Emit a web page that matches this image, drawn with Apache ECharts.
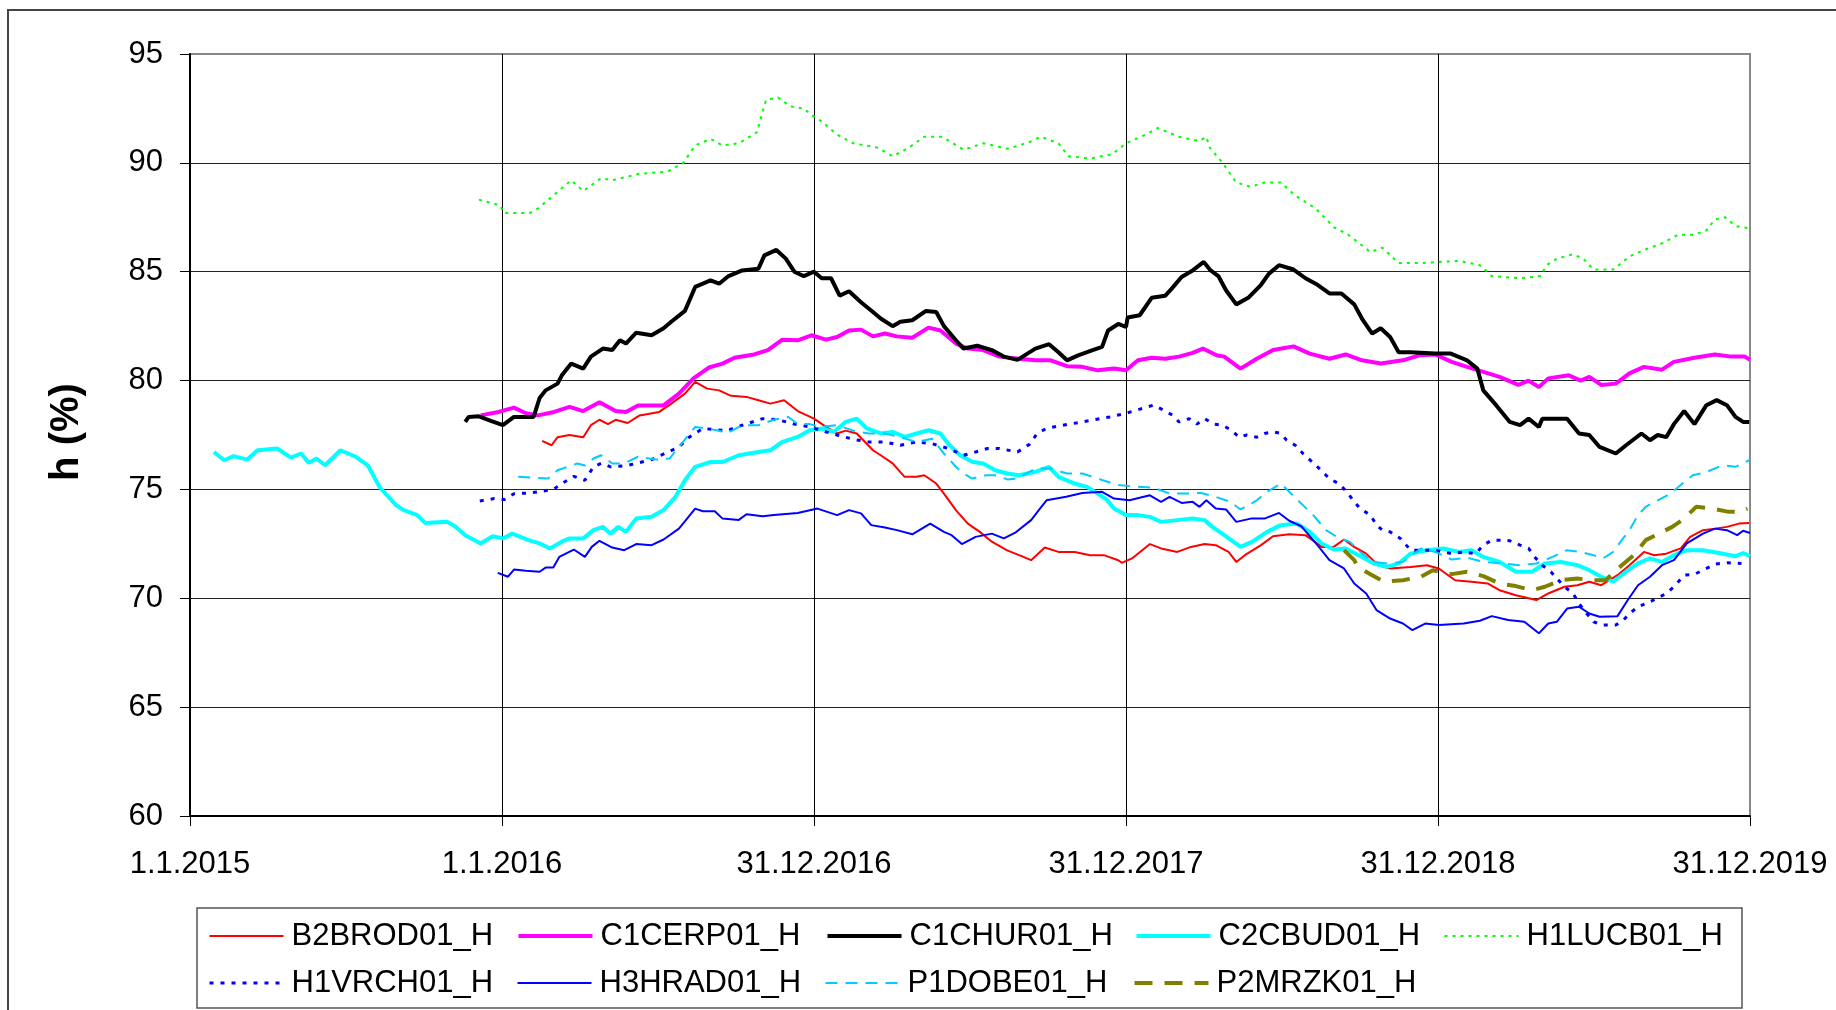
<!DOCTYPE html>
<html>
<head>
<meta charset="utf-8">
<title>h (%)</title>
<script src="https://cdn.jsdelivr.net/npm/echarts@6/dist/echarts.min.js"></script>
<style>
  html, body { margin: 0; padding: 0; background: #fff; }
  #chart { width: 1836px; height: 1010px; }
</style>
</head>
<body>
<div id="chart"></div>
<script>
// x = days since 1.1.2015, y = h (%)
const xTickLabels = ['1.1.2015', '1.1.2016', '31.12.2016', '31.12.2017', '31.12.2018', '31.12.2019']

const seriesNames = ['B2BROD01_H', 'C1CERP01_H', 'C1CHUR01_H', 'C2CBUD01_H', 'H1LUCB01_H',
  'H1VRCH01_H', 'H3HRAD01_H', 'P1DOBE01_H', 'P2MRZK01_H']

const b2brod = [[412,77.23],[423,77.03],[430,77.4],[444,77.5],[460,77.4],[469,77.95],[479,78.2],[489,78.0],[498,78.2],[512,78.05],[526,78.4],[549,78.56],[563,78.94],[579,79.4],[591,79.94],[605,79.63],[619,79.55],[633,79.3],[651,79.25],[665,79.1],[679,78.94],[695,79.1],[711,78.6],[730,78.25],[744,77.87],[757,77.57],[767,77.7],[780,77.57],[799,76.8],[808,76.57],[822,76.2],[836,75.58],[850,75.58],[859,75.65],[873,75.27],[882,74.81],[896,74.05],[910,73.43],[924,73.05],[938,72.6],[956,72.2],[975,71.9],[984,71.75],[1000,72.33],[1016,72.13],[1035,72.13],[1053,71.98],[1069,71.98],[1086,71.75],[1090,71.63],[1102,71.83],[1123,72.49],[1136,72.29],[1155,72.13],[1171,72.36],[1187,72.49],[1200,72.44],[1215,72.13],[1224,71.67],[1234,71.98],[1253,72.44],[1267,72.85],[1286,72.94],[1305,72.9],[1324,72.36],[1338,72.36],[1350,72.7],[1362,72.36],[1376,72.05],[1390,71.52],[1404,71.37],[1428,71.44],[1447,71.52],[1461,71.37],[1480,70.83],[1499,70.76],[1518,70.68],[1532,70.37],[1551,70.14],[1575,69.92],[1589,70.22],[1608,70.53],[1623,70.6],[1637,70.76],[1651,70.6],[1670,71.06],[1684,71.52],[1701,72.13],[1713,71.98],[1727,72.05],[1744,72.29],[1755,72.82],[1770,73.13],[1784,73.2],[1798,73.28],[1812,73.43],[1824,73.46]]

const c1cerp = [[340,78.4],[361,78.56],[379,78.76],[393,78.5],[407,78.4],[426,78.56],[444,78.79],[460,78.6],[479,79.0],[498,78.6],[510,78.56],[524,78.86],[554,78.86],[572,79.4],[589,80.1],[607,80.6],[623,80.78],[637,81.05],[660,81.2],[676,81.4],[693,81.88],[711,81.85],[727,82.08],[744,81.88],[757,82.0],[771,82.3],[785,82.34],[799,82.03],[813,82.16],[827,82.03],[845,81.97],[864,82.43],[878,82.3],[896,81.7],[910,81.47],[928,81.4],[947,81.1],[970,81.0],[989,80.93],[1007,80.93],[1026,80.66],[1044,80.63],[1062,80.47],[1081,80.55],[1095,80.47],[1109,80.93],[1125,81.05],[1141,81.0],[1157,81.1],[1173,81.27],[1185,81.47],[1201,81.16],[1210,81.1],[1229,80.55],[1248,81.0],[1267,81.4],[1291,81.57],[1310,81.24],[1333,81.0],[1352,81.2],[1371,80.93],[1393,80.78],[1419,80.93],[1438,81.16],[1457,81.2],[1476,80.86],[1494,80.63],[1513,80.4],[1532,80.17],[1554,79.8],[1566,80.0],[1578,79.7],[1589,80.1],[1613,80.24],[1627,80.0],[1637,80.17],[1651,79.8],[1668,79.86],[1684,80.33],[1701,80.63],[1722,80.5],[1736,80.86],[1760,81.05],[1784,81.2],[1803,81.1],[1819,81.1],[1825,80.96]]

const c1chur = [[322,78.1],[326,78.33],[338,78.36],[352,78.15],[366,77.95],[379,78.33],[402,78.33],[409,79.2],[416,79.55],[430,79.86],[435,80.24],[446,80.78],[460,80.55],[469,81.1],[483,81.47],[494,81.4],[503,81.85],[510,81.7],[522,82.2],[540,82.08],[554,82.4],[563,82.7],[579,83.2],[591,84.3],[609,84.6],[619,84.45],[630,84.8],[646,85.06],[665,85.14],[672,85.75],[686,86.0],[697,85.6],[707,85.0],[718,84.8],[730,85.0],[739,84.7],[750,84.7],[760,83.9],[771,84.1],[785,83.6],[799,83.15],[808,82.85],[822,82.5],[831,82.7],[845,82.77],[861,83.2],[873,83.15],[882,82.5],[896,81.85],[905,81.47],[921,81.6],[938,81.4],[952,81.1],[968,80.95],[989,81.47],[1005,81.67],[1016,81.3],[1026,80.93],[1039,81.16],[1056,81.4],[1067,81.55],[1074,82.3],[1086,82.6],[1095,82.46],[1097,82.9],[1111,83.0],[1125,83.8],[1141,83.9],[1148,84.2],[1160,84.76],[1173,85.06],[1186,85.45],[1194,85.06],[1203,84.8],[1212,84.15],[1224,83.5],[1238,83.8],[1253,84.4],[1262,84.9],[1274,85.3],[1291,85.1],[1305,84.7],[1319,84.4],[1333,84.0],[1347,84.0],[1362,83.5],[1371,82.85],[1383,82.16],[1393,82.4],[1404,82.0],[1414,81.3],[1428,81.3],[1457,81.24],[1475,81.24],[1494,80.93],[1506,80.55],[1513,79.55],[1528,78.87],[1544,78.1],[1556,77.95],[1566,78.25],[1578,77.87],[1582,78.25],[1611,78.25],[1625,77.57],[1637,77.5],[1649,76.95],[1668,76.65],[1680,77.03],[1698,77.57],[1708,77.26],[1717,77.5],[1727,77.4],[1736,78.0],[1748,78.6],[1760,78.0],[1774,78.87],[1786,79.1],[1798,78.87],[1808,78.33],[1817,78.1],[1824,78.1]]

const c2cbud = [[28,76.72],[40,76.34],[51,76.53],[67,76.37],[79,76.8],[102,76.88],[118,76.46],[130,76.65],[139,76.22],[148,76.42],[158,76.11],[176,76.8],[194,76.5],[208,76.11],[222,75.1],[241,74.28],[250,74.05],[266,73.82],[275,73.46],[301,73.51],[310,73.31],[322,72.9],[340,72.52],[354,72.85],[366,72.75],[377,72.97],[396,72.67],[409,72.52],[421,72.29],[435,72.6],[444,72.75],[460,72.75],[472,73.13],[483,73.28],[492,72.97],[501,73.28],[510,73.05],[522,73.66],[540,73.74],[554,74.05],[568,74.66],[579,75.42],[591,76.04],[609,76.26],[623,76.26],[642,76.57],[665,76.72],[679,76.8],[693,77.18],[711,77.41],[725,77.72],[739,77.8],[753,77.64],[767,78.1],[780,78.25],[792,77.8],[808,77.57],[822,77.64],[836,77.41],[850,77.57],[864,77.72],[878,77.57],[887,77.1],[901,76.57],[915,76.27],[928,76.19],[942,75.88],[956,75.73],[970,75.65],[989,75.81],[1005,76.04],[1016,75.58],[1035,75.27],[1049,75.12],[1062,74.81],[1072,74.55],[1081,74.12],[1095,73.82],[1109,73.82],[1123,73.74],[1136,73.51],[1155,73.59],[1173,73.66],[1187,73.59],[1196,73.28],[1210,72.9],[1229,72.36],[1243,72.6],[1260,73.05],[1276,73.36],[1295,73.43],[1310,73.05],[1324,72.52],[1338,72.24],[1352,72.29],[1371,71.9],[1385,71.6],[1400,71.44],[1414,71.6],[1428,72.05],[1447,72.21],[1466,72.29],[1485,72.13],[1499,72.21],[1513,71.9],[1532,71.67],[1551,71.22],[1570,71.22],[1585,71.6],[1604,71.67],[1623,71.52],[1637,71.29],[1651,70.99],[1665,70.76],[1680,71.22],[1694,71.6],[1708,71.83],[1722,71.67],[1736,71.98],[1751,72.21],[1770,72.21],[1789,72.08],[1808,71.93],[1817,72.08],[1825,71.93]]

const h1lucb = [[338,88.31],[363,88.05],[367,87.7],[398,87.7],[407,87.9],[425,88.5],[446,89.2],[460,88.7],[481,89.3],[494,89.2],[526,89.5],[559,89.6],[577,90.0],[591,90.8],[609,91.1],[623,90.8],[642,90.9],[663,91.4],[674,92.9],[688,93.0],[702,92.6],[718,92.5],[727,92.2],[739,91.9],[757,91.3],[776,90.9],[804,90.7],[822,90.3],[841,90.7],[859,91.2],[880,91.2],[905,90.6],[928,90.9],[956,90.65],[979,90.9],[995,91.2],[1016,90.9],[1028,90.3],[1053,90.2],[1079,90.4],[1095,90.9],[1118,91.3],[1132,91.6],[1157,91.2],[1181,91.0],[1189,91.2],[1193,90.7],[1208,90.0],[1215,89.6],[1224,89.1],[1241,88.9],[1257,89.1],[1276,89.1],[1293,88.5],[1317,87.9],[1338,87.05],[1355,86.7],[1381,85.9],[1395,86.1],[1414,85.4],[1442,85.4],[1485,85.5],[1509,85.3],[1523,84.8],[1556,84.7],[1580,84.8],[1587,85.3],[1599,85.6],[1618,85.8],[1630,85.6],[1642,85.1],[1665,85.1],[1684,85.7],[1701,86.0],[1722,86.3],[1741,86.7],[1760,86.7],[1774,86.9],[1784,87.4],[1796,87.5],[1808,87.1],[1824,87.0]]

const h1vrch = [[339,74.47],[356,74.58],[368,74.54],[379,74.8],[398,74.84],[414,74.93],[425,75.0],[435,75.27],[449,75.6],[462,75.42],[472,76.04],[481,76.2],[492,76.04],[512,76.1],[540,76.37],[572,76.95],[584,77.4],[600,77.8],[628,77.7],[646,77.95],[670,78.25],[688,78.2],[707,78.0],[725,77.87],[739,77.7],[757,77.5],[776,77.3],[794,77.18],[813,77.18],[831,77.03],[850,77.18],[868,77.1],[887,76.88],[905,76.57],[919,76.72],[933,76.88],[947,76.88],[968,76.72],[982,77.07],[991,77.57],[1002,77.8],[1021,77.95],[1044,78.1],[1058,78.2],[1076,78.33],[1090,78.45],[1104,78.6],[1127,78.87],[1136,78.7],[1150,78.4],[1157,78.1],[1169,78.25],[1178,78.0],[1187,78.25],[1198,78.0],[1208,77.95],[1219,77.7],[1227,77.4],[1236,77.5],[1248,77.4],[1257,77.57],[1267,77.65],[1276,77.57],[1283,77.26],[1293,77.03],[1302,76.65],[1319,76.04],[1333,75.5],[1345,75.24],[1355,74.81],[1362,74.43],[1369,74.12],[1381,73.82],[1388,73.36],[1395,73.13],[1404,73.05],[1416,72.75],[1428,72.21],[1442,72.21],[1457,72.21],[1476,72.05],[1490,72.13],[1504,72.05],[1513,72.44],[1523,72.67],[1535,72.67],[1544,72.64],[1556,72.44],[1566,72.29],[1573,71.9],[1582,71.52],[1592,71.22],[1599,70.91],[1608,70.53],[1618,70.22],[1625,69.76],[1634,69.3],[1642,68.92],[1653,68.77],[1668,68.77],[1677,69.0],[1684,69.3],[1694,69.61],[1708,69.84],[1727,70.22],[1736,70.53],[1748,71.06],[1760,71.1],[1774,71.37],[1784,71.57],[1798,71.63],[1815,71.6]]

const h3hrad = [[360,71.17],[372,70.99],[379,71.32],[393,71.26],[409,71.22],[416,71.41],[425,71.41],[432,71.9],[449,72.24],[462,71.9],[470,72.36],[479,72.64],[494,72.33],[508,72.21],[522,72.49],[540,72.44],[554,72.7],[572,73.2],[591,74.12],[600,74.0],[614,74.0],[623,73.66],[642,73.6],[651,73.86],[670,73.77],[683,73.82],[711,73.92],[734,74.12],[757,73.82],[771,74.05],[785,73.9],[797,73.36],[813,73.25],[827,73.13],[845,72.94],[866,73.43],[882,73.05],[891,72.9],[903,72.49],[919,72.82],[938,72.97],[952,72.75],[965,73.0],[984,73.59],[993,74.05],[1002,74.5],[1025,74.66],[1044,74.84],[1067,74.89],[1081,74.58],[1099,74.5],[1123,74.73],[1136,74.43],[1146,74.66],[1160,74.38],[1173,74.43],[1181,74.2],[1189,74.5],[1200,74.12],[1212,74.08],[1224,73.51],[1241,73.66],[1257,73.66],[1274,73.92],[1286,73.56],[1300,73.31],[1319,72.44],[1333,71.75],[1350,71.37],[1362,70.68],[1376,70.22],[1388,69.46],[1404,69.07],[1419,68.84],[1430,68.54],[1445,68.84],[1461,68.77],[1490,68.84],[1509,68.97],[1523,69.18],[1542,69.0],[1561,68.92],[1578,68.39],[1589,68.84],[1599,68.92],[1611,69.53],[1625,69.61],[1637,69.3],[1649,69.15],[1670,69.18],[1682,69.92],[1694,70.6],[1708,70.99],[1722,71.52],[1736,71.75],[1751,72.52],[1770,72.97],[1784,73.2],[1798,73.13],[1810,72.9],[1817,73.1],[1825,73.0]]

const p1dobe = [[384,75.58],[419,75.5],[430,75.88],[444,76.07],[453,76.19],[462,76.1],[472,76.42],[481,76.57],[494,76.19],[508,76.19],[524,76.5],[545,76.37],[561,76.42],[572,76.95],[591,77.87],[605,77.8],[619,77.7],[628,77.57],[646,77.95],[665,77.95],[683,78.2],[700,78.33],[711,78.0],[725,78.0],[737,77.87],[757,77.95],[776,77.7],[794,77.57],[813,77.57],[831,77.4],[850,77.18],[868,77.33],[882,76.65],[896,76.04],[905,75.73],[915,75.5],[931,75.65],[942,75.65],[956,75.46],[968,75.5],[989,75.96],[1007,75.96],[1026,75.73],[1044,75.73],[1067,75.43],[1086,75.2],[1109,75.12],[1127,75.08],[1146,74.81],[1164,74.81],[1183,74.84],[1200,74.66],[1217,74.43],[1229,74.08],[1248,74.5],[1260,74.89],[1276,75.27],[1286,74.89],[1300,74.35],[1314,73.82],[1329,73.13],[1343,72.79],[1357,72.59],[1371,72.05],[1385,71.67],[1400,71.6],[1419,71.67],[1440,72.29],[1457,72.13],[1476,71.78],[1494,71.87],[1513,71.67],[1535,71.6],[1556,71.52],[1575,71.6],[1594,71.9],[1611,72.21],[1627,72.13],[1642,71.98],[1653,71.83],[1665,72.13],[1675,72.67],[1684,73.13],[1694,73.82],[1703,74.2],[1717,74.5],[1732,74.81],[1746,75.27],[1758,75.65],[1774,75.8],[1793,76.11],[1808,76.04],[1824,76.34]]

const p2mrzk = [[1350,72.21],[1362,71.75],[1366,71.44],[1383,71.06],[1397,70.76],[1419,70.83],[1440,70.99],[1454,71.29],[1476,71.11],[1494,71.22],[1513,71.02],[1532,70.68],[1551,70.56],[1570,70.37],[1585,70.53],[1604,70.83],[1623,70.91],[1639,70.83],[1656,70.83],[1675,71.52],[1689,71.98],[1703,72.67],[1715,72.9],[1734,73.28],[1748,73.66],[1762,74.2],[1781,74.12],[1800,73.97],[1812,73.97],[1822,74.12]]

const seriesData = [b2brod, c1cerp, c1chur, c2cbud, h1lucb, h1vrch, h3hrad, p1dobe, p2mrzk]

// line look of each station (colour, width, dash)
const lineStyles = [
  { color: '#ff0000', width: 2, type: 'solid' },
  { color: '#ff00ff', width: 4, type: 'solid' },
  { color: '#000000', width: 4, type: 'solid' },
  { color: '#00ffff', width: 4, type: 'solid' },
  { color: '#00ff00', width: 2, type: [3, 5] },
  { color: '#0000ff', width: 3, type: [4, 7] },
  { color: '#0000ff', width: 2, type: 'solid' },
  { color: '#00ccff', width: 2, type: [12, 8] },
  { color: '#808000', width: 4, type: [18, 12] }
]

const font = "'Liberation Sans', Arial, sans-serif"

const option = {
  animation: false,
  backgroundColor: '#ffffff',
  grid: { left: 190, right: 86, top: 54, bottom: 194, show: true, borderColor: '#888', borderWidth: 2 },
  xAxis: {
    type: 'value',
    min: 0,
    max: 1825,
    interval: 365,
    axisLine: { lineStyle: { color: '#000', width: 2 } },
    axisTick: { show: true, length: 10, lineStyle: { color: '#000', width: 1 } },
    axisLabel: {
      margin: 33,
      fontSize: 31,
      fontFamily: font,
      color: '#000',
      showMinLabel: true,
      showMaxLabel: true,
      formatter: v => xTickLabels[Math.round(v / 365)]
    },
    splitLine: { show: true, showMinLine: false, showMaxLine: false, lineStyle: { color: '#000', width: 1 } }
  },
  yAxis: {
    type: 'value',
    min: 60,
    max: 95,
    interval: 5,
    axisLine: { show: true, lineStyle: { color: '#000', width: 2 } },
    axisTick: { show: true, length: 10, lineStyle: { color: '#000', width: 1 } },
    axisLabel: { margin: 27, fontSize: 31, fontFamily: font, color: '#000' },
    splitLine: { show: true, showMinLine: false, showMaxLine: false, lineStyle: { color: '#222', width: 1 } }
  },
  legend: {
    left: 208,
    top: 916,
    width: 1540,
    padding: 0,
    itemWidth: 74,
    itemHeight: 14,
    itemGap: 7,
    selectedMode: false,
    itemStyle: { opacity: 0 },
    lineStyle: { width: 'inherit' },
    textStyle: { fontSize: 31, fontFamily: font, color: '#000', width: 218, padding: [0, 0, 0, 3], lineHeight: 40 },
    data: seriesNames
  },
  graphic: [
    { type: 'rect', z: -1, silent: true, shape: { x: 8, y: 10, width: 1900, height: 1100 },
      style: { fill: 'none', stroke: '#444', lineWidth: 2 } },
    { type: 'rect', z: -1, silent: true, shape: { x: 197, y: 908, width: 1545, height: 100 },
      style: { fill: 'none', stroke: '#555', lineWidth: 1.5 } },
    { type: 'text', x: 67, y: 432, rotation: Math.PI / 2, silent: true,
      style: { text: 'h (%)', font: 'bold 40px ' + font, fill: '#000', align: 'center', verticalAlign: 'middle' } }
  ],
  series: seriesNames.map((name, i) => ({
    name: name,
    type: 'line',
    data: seriesData[i],
    symbol: 'none',
    showSymbol: false,
    lineStyle: lineStyles[i],
    itemStyle: { color: lineStyles[i].color }
  }))
}

const chart = echarts.init(document.getElementById('chart'))
chart.setOption(option)
</script>
</body>
</html>
